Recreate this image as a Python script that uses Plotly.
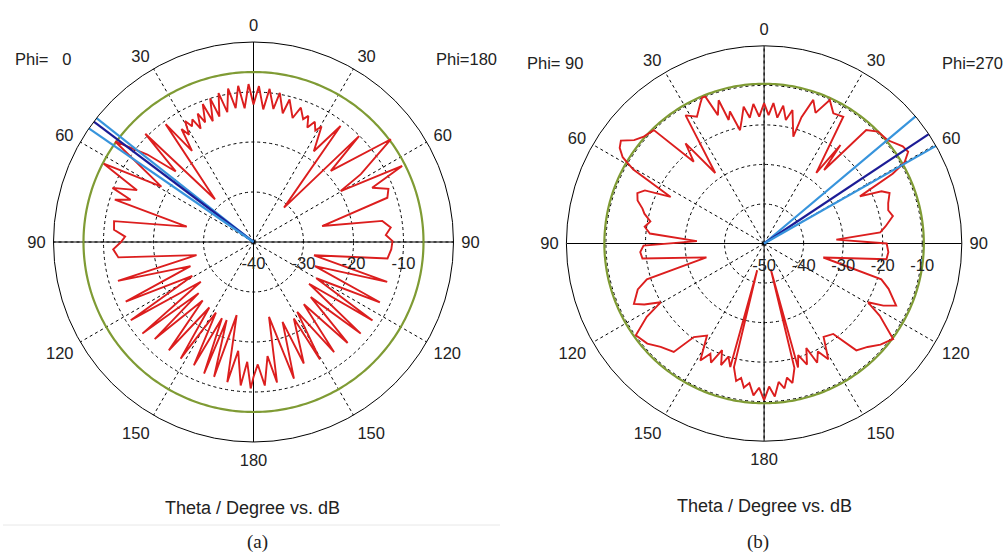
import plotly.graph_objects as go

# ---------------- Panel (a): cuts at Phi = 0 (left half) and Phi = 180 (right half)
theta_a_phi0 = [0, 1.8, 3.8, 5.6, 7.6, 9.4, 11.4, 13.2, 15.2, 16.8, 18.6, 20.2, 22.0, 23.5,
                25.0, 26.5, 28.0, 29.5, 31.0, 32.5, 34.0, 36.7, 42.0, 45.0, 47.8, 50.5, 54.0,
                59.0, 62.4, 66.0, 69.0, 71.0, 73.0, 77.0, 81.5, 85.0, 87.6, 90.0, 93.0, 96.5,
                103.0, 106.0, 111.0, 115.0, 119.0, 122.5, 127.0, 129.5, 133.0, 134.5, 139.0,
                142.0, 146.0, 148.0, 152.0, 154.2, 157.5, 159.4, 161.0, 163.7, 167.0, 169.4,
                172.0, 174.9, 177.0, 178.9, 180.0]
db_a_phi0 = [-12.5, -8.4, -13.2, -8.6, -13.0, -8.9, -13.5, -9.4, -14.0, -10.0, -14.5, -10.6,
             -14.2, -12.0, -15.0, -12.6, -13.8, -12.2, -15.0, -13.2, -18.0, -10.6, -28.5, -9.4,
             -19.0, -12.5, -5.8, -18.5, -6.2, -14.5, -9.8, -14.0, -11.0, -26.3, -11.8, -12.0,
             -14.3, -13.5, -11.9, -12.8, -28.3, -11.8, -26.5, -11.8, -26.0, -10.9, -26.8,
             -11.2, -25.0, -12.3, -24.5, -12.5, -24.2, -12.5, -24.0, -12.6, -23.5, -11.9,
             -23.5, -11.9, -25.0, -11.5, -18.0, -11.2, -16.0, -10.7, -13.0]

theta_a_phi180 = [0, 2.0, 4.2, 6.0, 8.5, 10.0, 12.8, 14.2, 17.5, 19.4, 22.0, 23.5, 25.2, 27.0,
                  29.0, 30.5, 33.6, 36.9, 41.6, 44.9, 47.4, 53.2, 57.7, 59.7, 62.9, 65.4, 68.5,
                  71.7, 76.9, 80.7, 84.0, 87.0, 89.6, 93.0, 97.0, 102.4, 106.6, 111.5, 115.5,
                  120.0, 123.4, 126.9, 130.5, 133.9, 137.0, 141.0, 143.8, 148.0, 150.5, 152.2,
                  157.5, 160.0, 163.5, 168.3, 170.5, 173.0, 175.5, 178.0, 180.0]
db_a_phi180 = [-12.5, -8.8, -13.4, -9.2, -13.1, -9.7, -13.6, -10.6, -14.0, -11.5, -13.5, -12.5,
               -14.7, -13.0, -14.5, -13.2, -18.2, -11.0, -30.8, -10.1, -19.0, -5.7, -14.6, -19.8,
               -6.6, -13.9, -11.0, -11.8, -25.9, -13.9, -12.4, -13.5, -12.2, -12.4, -13.0, -27.6,
               -12.1, -26.8, -12.0, -25.5, -11.5, -26.1, -11.8, -24.1, -12.4, -24.0, -12.7,
               -23.5, -13.0, -22.7, -13.7, -23.0, -11.5, -24.7, -11.5, -17.0, -11.2, -15.5, -13.0]

level_a = -6.0                     # reference level circle, dB
beam_a = [51.7, 53.0, 55.4]        # beam markers on the Phi = 0 side (edge, main, edge)
rticks_a = [-40, -30, -20, -10]

# ---------------- Panel (b): cuts at Phi = 90 (left half) and Phi = 270 (right half)
theta_b_phi90 = [0, 2.2, 4.4, 6.5, 8.5, 10.3, 12.0, 14.5, 16.0, 17.6, 19.8, 21.8, 23.0, 24.5,
                 27.9, 31.5, 34.7, 38.1, 40.7, 44.2, 48.4, 51.5, 54.3, 56.5, 58.6, 60.5, 63.5,
                 66.0, 68.3, 71.2, 74.0, 76.0, 79.0, 82.0, 85.0, 88.0, 91.0, 94.0, 97.0, 103.5,
                 107.0, 110.0, 114.9, 117.0, 119.6, 122.0, 125.6, 130.6, 135.0, 140.2, 143.1,
                 148.2, 151.4, 154.0, 156.0, 158.5, 160.5, 162.5, 164.7, 165.5, 166.3, 168.5,
                 170.3, 172.0, 174.0, 176.0, 178.0, 180.0]
db_b_phi90 = [-14.5, -17.9, -14.6, -18.0, -15.0, -18.3, -20.7, -15.5, -17.5, -12.0, -15.5, -10.0,
              -9.9, -11.1, -13.7, -12.0, -28.3, -17.8, -22.7, -10.0, -9.3, -8.0, -5.4, -6.2,
              -8.1, -12.0, -23.6, -17.0, -15.5, -16.2, -18.0, -18.8, -20.7, -19.5, -21.0, -33.0,
              -19.5, -18.6, -19.0, -35.0, -19.0, -16.0, -13.7, -16.0, -19.9, -15.0, -10.1, -11.1,
              -13.0, -14.3, -20.4, -22.6, -16.3, -19.0, -17.0, -21.0, -17.4, -20.0, -17.6, -43.0,
              -17.8, -14.5, -15.5, -13.2, -14.5, -11.5, -13.5, -10.4]

theta_b_phi270 = [0, 2.0, 3.8, 6.0, 7.9, 10.0, 12.0, 15.3, 16.5, 18.9, 21.5, 24.6, 28.0, 32.0,
                  36.5, 37.8, 39.2, 42.0, 45.5, 50.0, 55.0, 57.5, 60.0, 61.5, 63.8, 66.0, 68.1,
                  72.0, 75.0, 78.0, 82.0, 84.5, 86.9, 90.0, 94.0, 97.3, 103.3, 107.0, 110.0,
                  115.2, 117.5, 119.5, 122.0, 126.5, 131.0, 135.0, 139.2, 142.6, 147.5, 151.0,
                  153.5, 156.0, 158.0, 160.5, 163.0, 164.7, 165.5, 166.3, 168.5, 170.3, 172.0,
                  174.0, 176.0, 178.0, 180.0]
db_b_phi270 = [-14.5, -17.5, -14.4, -18.0, -14.8, -18.3, -15.5, -22.0, -16.7, -11.6, -14.5, -10.1,
               -12.7, -12.2, -27.8, -18.5, -26.0, -11.4, -9.6, -9.3, -7.2, -6.8, -9.0, -13.0,
               -23.0, -17.5, -15.8, -17.0, -17.5, -16.7, -19.0, -20.5, -31.7, -19.0, -18.5, -18.8,
               -34.6, -19.0, -16.5, -13.1, -16.0, -19.8, -15.5, -9.4, -11.0, -13.0, -14.3, -21.2,
               -22.0, -16.5, -19.5, -17.0, -21.5, -17.5, -20.5, -17.5, -43.2, -17.6, -14.0, -15.6,
               -13.0, -14.8, -11.2, -13.8, -10.4]

level_b = -9.6                     # reference level circle, dB
beam_b = [50.0, 56.4, 60.4]        # beam markers on the Phi = 270 side (edge, main, edge)
rticks_b = [-50, -40, -30, -20, -10]

# ---------------- styling
RED = "#dc1e1e"
NAVY = "#1c1c96"
SKY = "#3794dc"
OLIVE = "#7f9b34"
FONT = "Liberation Sans"
TXT = "#222222"

tick_vals = list(range(0, 360, 30))
tick_text = ["0", "30", "60", "90", "120", "150", "180", "150", "120", "90", "60", "30"]


def full_loop(th_left, r_left, th_right, r_right):
    """Left half uses theta directly (counterclockwise from top), right half is mirrored."""
    th = list(th_left) + [360 - t for t in reversed(th_right)]
    rr = list(r_left) + list(reversed(r_right))
    return th, rr


fig = go.Figure()


def add_panel(sub, rmin, th_l, r_l, th_r, r_r, level, beam, beam_side_left):
    # solid vertical and horizontal diameters
    fig.add_trace(go.Scatterpolar(r=[0, rmin, 0], theta=[0, 0, 180], mode="lines",
                                  line=dict(color="black", width=1), subplot=sub,
                                  hoverinfo="skip"))
    fig.add_trace(go.Scatterpolar(r=[0, rmin, 0], theta=[90, 90, 270], mode="lines",
                                  line=dict(color="black", width=1), subplot=sub,
                                  hoverinfo="skip"))
    # reference level circle
    circ_t = list(range(0, 361))
    fig.add_trace(go.Scatterpolar(r=[level] * len(circ_t), theta=circ_t, mode="lines",
                                  line=dict(color=OLIVE, width=2.2), subplot=sub,
                                  hoverinfo="skip"))
    # pattern
    th, rr = full_loop(th_l, r_l, th_r, r_r)
    fig.add_trace(go.Scatterpolar(r=rr, theta=th, mode="lines",
                                  line=dict(color=RED, width=1.9), subplot=sub))
    # beam direction markers
    for ang, col in zip(beam, [SKY, NAVY, SKY]):
        a = ang if beam_side_left else 360 - ang
        fig.add_trace(go.Scatterpolar(r=[rmin, 0], theta=[a, a], mode="lines",
                                      line=dict(color=col, width=2.2), subplot=sub,
                                      hoverinfo="skip"))


add_panel("polar", -40, theta_a_phi0, db_a_phi0, theta_a_phi180, db_a_phi180,
          level_a, beam_a, True)
add_panel("polar2", -50, theta_b_phi90, db_b_phi90, theta_b_phi270, db_b_phi270,
          level_b, beam_b, False)


def polar_layout(domain_x, domain_y, rticks):
    return dict(
        domain=dict(x=domain_x, y=domain_y),
        bgcolor="white",
        angularaxis=dict(
            rotation=90, direction="counterclockwise",
            tickmode="array", tickvals=tick_vals, ticktext=tick_text,
            tickfont=dict(family=FONT, size=16.5, color=TXT),
            showline=True, linecolor="black", linewidth=1,
            showgrid=True, gridcolor="black", gridwidth=1, griddash="3px,3px",
            ticks="outside", ticklen=4, tickcolor="rgba(0,0,0,0)",
        ),
        radialaxis=dict(
            range=[rticks[0], 0], angle=0, side="clockwise",
            tickmode="array", tickvals=rticks, ticktext=[str(v) for v in rticks],
            tickfont=dict(family=FONT, size=16.5, color=TXT),
            showline=False, ticks="outside", ticklen=7, tickcolor="rgba(0,0,0,0)",
            showgrid=True, gridcolor="black", gridwidth=1, griddash="3px,3px",
        ),
    )


W, H = 1006, 554
fig.update_layout(
    width=W, height=H, margin=dict(l=0, r=0, t=0, b=0),
    paper_bgcolor="white", showlegend=False,
    polar=polar_layout([53.5 / W, 453.5 / W], [112 / H, 512 / H], rticks_a),
    polar2=polar_layout([566.4 / W, 961.8 / W], [112.8 / H, 508.2 / H], rticks_b),
)


def label(text, x, y, anchor="center", size=16.5, family=FONT):
    fig.add_annotation(text=text, x=x / W, y=1 - y / H, xref="paper", yref="paper",
                       xanchor=anchor, yanchor="middle", showarrow=False,
                       font=dict(family=family, size=size, color=TXT))


label("Phi=\u00a0\u00a0\u00a00", 13, 59, "left")
label("Phi=180", 499, 59, "right")
label("Phi=\u00a090", 525, 63.5, "left")
label("Phi=270", 1005, 63.5, "right")
label("Theta / Degree vs. dB", 252.5, 508, size=18)
label("Theta / Degree vs. dB", 764, 506, size=18)
label("(a)", 257.5, 542, size=19, family="Liberation Serif")
label("(b)", 758, 542, size=19, family="Liberation Serif")

# faint separator under the left panel
fig.add_shape(type="line", xref="paper", yref="paper", x0=3 / W, x1=500 / W,
              y0=1 - 525 / H, y1=1 - 525 / H, line=dict(color="#e8e8e8", width=1))

fig.write_html("out.html")
